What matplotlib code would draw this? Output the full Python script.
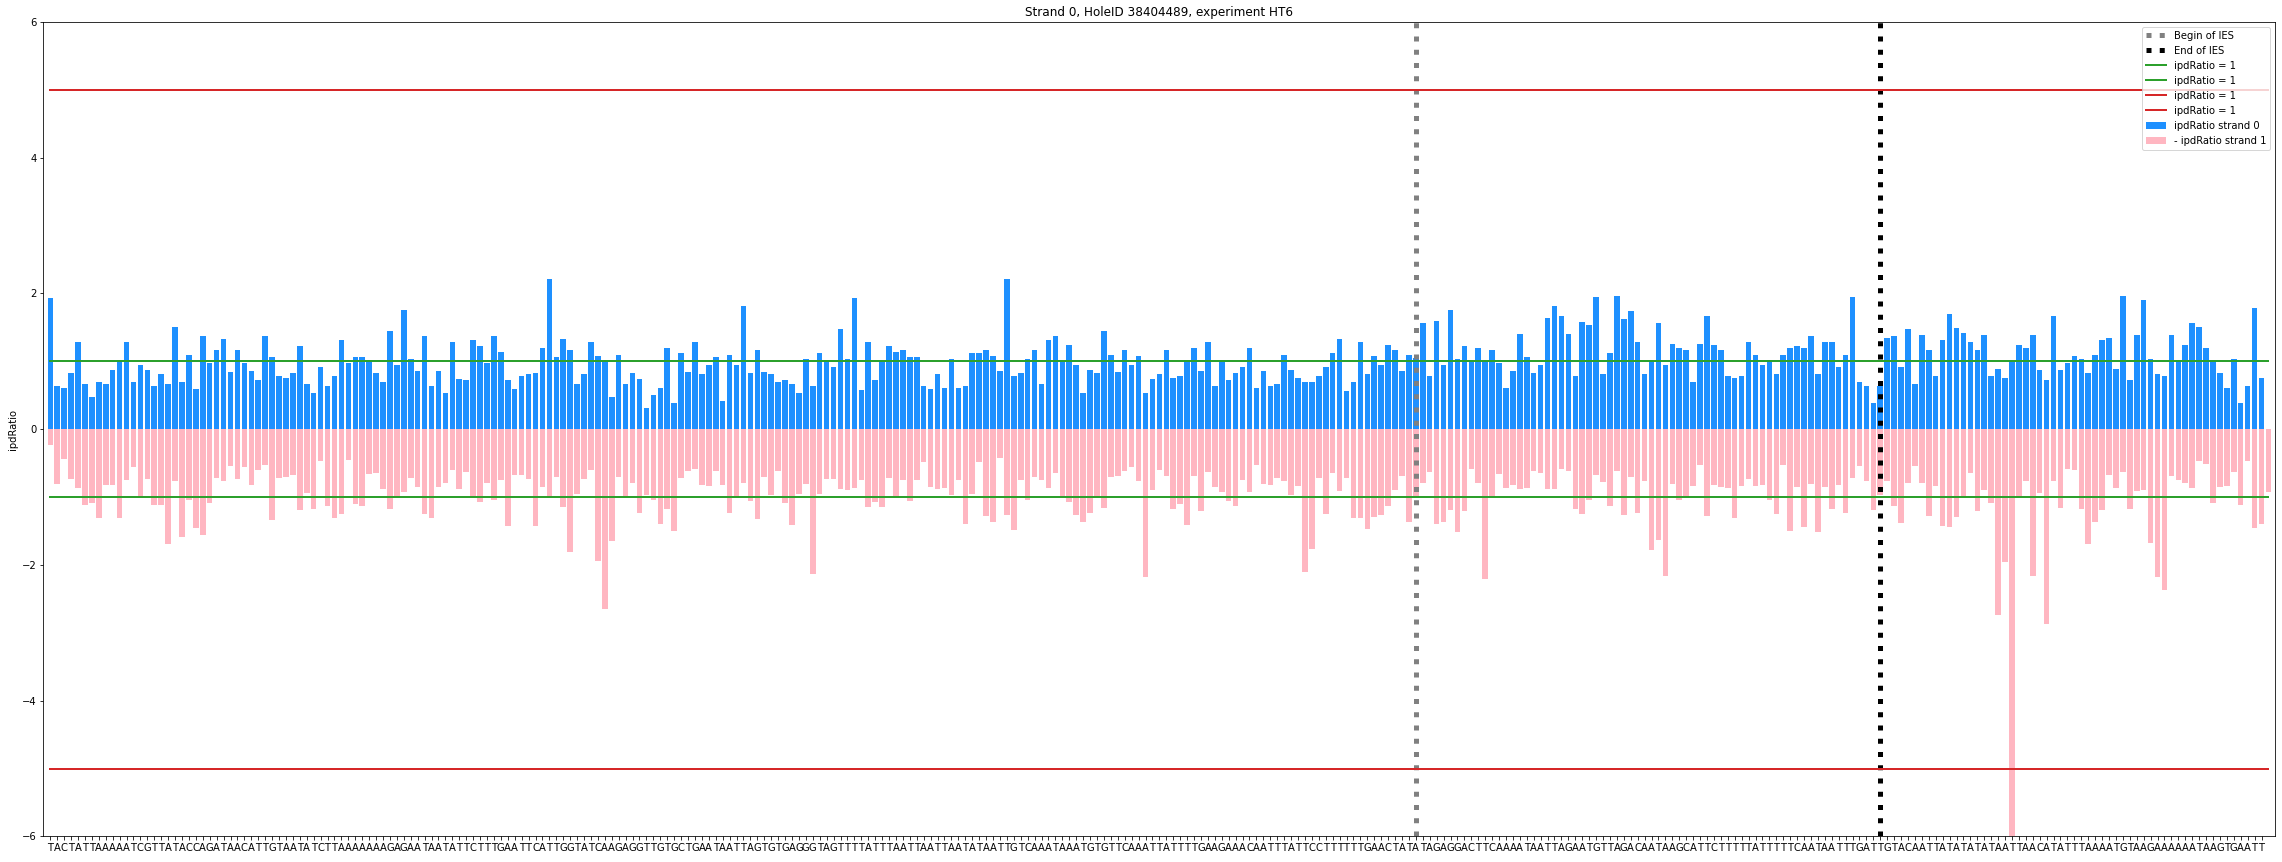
import numpy as np
from matplotlib import pyplot as plt

sequenza = ("TACTATTAAAAATCGTTATACCAGATAACATTGTAATATC"
            "TTAAAAAAAGAGAATAATATTCTTTGAATTCATTGGTATC"
            "AAGAGGTTGTGCTGAATAATTAGTGTGAGGGTAGTTTTAT"
            "TTAATTAATTAATATAATTGTCAAATAAATGTGTTCAAAT"
            "TATTTTGAAGAAACAATTTATTCCTTTTTTGAACTATATA"
            "GAGGACTTCAAAATAATTAGAATGTTAGACAATAAGCATT"
            "CTTTTTATTTTTCAATAATTTGATTGTACAATTATATATA"
            "TAATTAACATATTTAAAATGTAAGAAAAAATAAGTGAATT")

ipd_strand0 = [
    1.94, 0.64, 0.61, 0.83, 1.28, 0.67, 0.48, 0.70, 0.67, 0.88,
    1.02, 1.29, 0.70, 0.95, 0.88, 0.63, 0.81, 0.66, 1.51, 0.70,
    1.10, 0.60, 1.37, 0.97, 1.17, 1.33, 0.85, 1.16, 0.97, 0.86,
    0.72, 1.38, 1.06, 0.78, 0.76, 0.83, 1.22, 0.67, 0.53, 0.92,
    0.63, 0.78, 1.31, 0.97, 1.06, 1.07, 1.01, 0.83, 0.70, 1.45,
    0.94, 1.76, 1.04, 0.86, 1.38, 0.63, 0.86, 0.54, 1.29, 0.74,
    0.73, 1.31, 1.22, 0.97, 1.38, 1.14, 0.73, 0.60, 0.79, 0.81,
    0.83, 1.20, 2.22, 1.06, 1.33, 1.17, 0.67, 0.82, 1.28, 1.08,
    1.00, 0.48, 1.10, 0.66, 0.83, 0.74, 0.31, 0.51, 0.61, 1.19,
    0.38, 1.13, 0.85, 1.28, 0.82, 0.94, 1.07, 0.42, 1.10, 0.95,
    1.81, 0.83, 1.17, 0.85, 0.82, 0.70, 0.72, 0.66, 0.53, 1.04,
    0.64, 1.13, 1.00, 0.91, 1.48, 1.03, 1.94, 0.58, 1.29, 0.72,
    1.00, 1.23, 1.14, 1.16, 1.07, 1.07, 0.63, 0.60, 0.81, 0.61,
    1.04, 0.61, 0.63, 1.12, 1.13, 1.17, 1.08, 0.86, 2.22, 0.79,
    0.83, 1.04, 1.16, 0.66, 1.31, 1.38, 1.01, 1.24, 0.95, 0.54,
    0.88, 0.83, 1.45, 1.10, 0.85, 1.17, 0.94, 1.08, 0.54, 0.74,
    0.82, 1.16, 0.76, 0.79, 1.00, 1.19, 0.86, 1.28, 0.64, 1.00,
    0.73, 0.83, 0.92, 1.20, 0.61, 0.86, 0.63, 0.66, 1.10, 0.88,
    0.76, 0.69, 0.69, 0.79, 0.92, 1.12, 1.33, 0.57, 0.70, 1.28,
    0.82, 1.08, 0.95, 1.24, 1.17, 0.86, 1.10, 1.05, 1.56, 0.78,
    1.60, 0.95, 1.76, 1.03, 1.22, 1.00, 1.20, 1.00, 1.17, 0.97,
    0.61, 0.86, 1.41, 1.07, 0.83, 0.94, 1.64, 1.81, 1.67, 1.41,
    0.79, 1.58, 1.54, 1.95, 0.82, 1.12, 1.97, 1.62, 1.74, 1.28,
    0.82, 1.01, 1.56, 0.94, 1.26, 1.20, 1.16, 0.70, 1.26, 1.67,
    1.24, 1.17, 0.78, 0.76, 0.79, 1.28, 1.10, 0.94, 1.01, 0.82,
    1.10, 1.19, 1.22, 1.20, 1.38, 0.81, 1.29, 1.28, 0.91, 1.10,
    1.95, 0.70, 0.64, 0.39, 0.64, 1.35, 1.38, 0.92, 1.47, 0.67,
    1.39, 1.17, 0.79, 1.32, 1.70, 1.49, 1.42, 1.29, 1.17, 1.39,
    0.78, 0.89, 0.76, 1.00, 1.24, 1.19, 1.39, 0.88, 0.73, 1.67,
    0.88, 0.97, 1.08, 1.03, 0.83, 1.10, 1.31, 1.35, 0.89, 1.97,
    0.73, 1.39, 1.91, 1.04, 0.81, 0.79, 1.39, 1.00, 1.24, 1.56,
    1.51, 1.20, 1.00, 0.83, 0.61, 1.03, 0.38, 0.64, 1.78, 0.75,
]

ipd_strand1 = [
    0.23, 0.81, 0.44, 0.73, 0.86, 1.11, 1.09, 1.31, 0.82, 0.82,
    1.31, 0.75, 0.56, 1.02, 0.73, 1.11, 1.12, 1.69, 0.77, 1.59,
    1.04, 1.46, 1.56, 1.09, 0.72, 0.77, 0.54, 0.73, 0.56, 0.82,
    0.60, 0.53, 1.34, 0.72, 0.71, 0.67, 1.19, 0.94, 1.18, 0.47,
    1.13, 1.31, 1.25, 0.46, 1.10, 1.13, 0.66, 0.64, 0.88, 1.18,
    0.99, 0.93, 0.72, 0.85, 1.25, 1.31, 0.85, 0.79, 0.60, 0.88,
    0.63, 1.02, 1.07, 0.79, 1.04, 0.75, 1.43, 0.68, 0.68, 0.73,
    1.43, 0.85, 1.00, 0.71, 1.14, 1.81, 0.96, 0.73, 0.60, 1.94,
    2.65, 1.64, 0.71, 1.00, 0.79, 1.24, 0.97, 1.04, 1.40, 1.18,
    1.50, 0.72, 0.62, 0.59, 0.82, 0.84, 0.62, 0.82, 1.24, 1.00,
    0.79, 1.06, 1.32, 0.71, 0.97, 0.62, 1.09, 1.41, 0.96, 0.81,
    2.14, 0.96, 0.73, 0.73, 0.88, 0.89, 0.87, 0.75, 1.14, 1.07,
    1.14, 0.72, 1.00, 0.75, 1.06, 0.75, 0.48, 0.85, 0.88, 0.87,
    0.97, 0.75, 1.40, 0.96, 0.48, 1.28, 1.36, 0.43, 1.27, 1.48,
    0.75, 1.04, 0.71, 0.75, 0.87, 0.64, 1.00, 1.07, 1.27, 1.36,
    1.23, 1.00, 1.16, 0.71, 0.69, 0.62, 0.56, 0.77, 2.18, 0.89,
    0.60, 0.69, 1.18, 1.10, 1.41, 0.69, 1.21, 0.63, 0.85, 0.93,
    1.06, 1.13, 0.75, 0.93, 0.53, 0.81, 0.82, 0.72, 0.77, 0.97,
    0.84, 2.11, 1.77, 0.72, 1.25, 0.64, 0.91, 0.72, 1.31, 1.31,
    1.47, 1.29, 1.27, 1.13, 0.89, 0.69, 1.36, 1.00, 0.79, 0.63,
    1.40, 1.37, 1.19, 1.52, 1.21, 0.59, 0.79, 2.21, 1.00, 0.66,
    0.87, 0.82, 0.88, 0.87, 0.62, 0.64, 0.88, 0.88, 0.59, 0.62,
    1.18, 1.25, 1.04, 0.68, 0.78, 1.13, 0.62, 1.27, 0.71, 1.23,
    0.77, 1.78, 1.63, 2.16, 0.81, 1.04, 1.02, 0.84, 0.53, 1.28,
    0.82, 0.85, 0.87, 1.31, 0.84, 0.73, 0.84, 0.82, 1.04, 1.25,
    0.53, 1.50, 0.85, 1.44, 0.81, 1.52, 0.85, 1.18, 0.82, 1.23,
    0.72, 0.54, 0.77, 1.19, 0.97, 0.77, 1.13, 1.38, 0.79, 0.54,
    0.79, 1.28, 0.84, 1.43, 1.44, 1.29, 1.00, 0.64, 1.21, 0.89,
    1.09, 2.73, 1.96, 6.30, 1.00, 0.77, 2.16, 0.94, 2.87, 0.77,
    1.16, 0.59, 0.60, 1.18, 1.69, 1.37, 1.19, 0.68, 0.87, 0.63,
    1.18, 0.91, 0.89, 1.68, 2.18, 2.37, 0.69, 0.75, 0.79, 0.87,
    0.47, 0.51, 1.09, 0.85, 0.84, 0.63, 1.12, 0.47, 1.46, 1.40,
    0.93,
]

inizio_ies = 197
fine_ies = 264

n0 = len(ipd_strand0)
n1 = len(ipd_strand1)

fig = plt.figure(figsize=(2282 / 72, 862 / 72), dpi=72)
ax = fig.add_axes([0.019, 0.0296, 0.9781, 0.9449])

ax.axvline(inizio_ies, color="grey", linestyle=":", linewidth=5, label="Begin of IES")
ax.axvline(fine_ies, color="black", linestyle=":", linewidth=5, label="End of IES")
ax.plot([0, n1 - 1], [1, 1], color="tab:green", linewidth=2, label="ipdRatio = 1")
ax.plot([0, n1 - 1], [-1, -1], color="tab:green", linewidth=2, label="ipdRatio = 1")
ax.plot([0, n1 - 1], [5, 5], color="tab:red", linewidth=2, label="ipdRatio = 1")
ax.plot([0, n1 - 1], [-5, -5], color="tab:red", linewidth=2, label="ipdRatio = 1")
ax.bar(np.arange(n0), ipd_strand0, color="dodgerblue", label="ipdRatio strand 0", zorder=1)
ax.bar(np.arange(n1), -np.array(ipd_strand1), color="lightpink", label="- ipdRatio strand 1", zorder=1)

ax.set_xlim(-1, n1)
ax.set_ylim(-6, 6)
ax.set_xticks(np.arange(n0))
ax.set_xticklabels(list(sequenza))
ax.set_ylabel("ipdRatio")
ax.set_title("Strand 0, HoleID 38404489, experiment HT6")
ax.legend(loc="upper right")

plt.savefig("out.png", dpi=72)
